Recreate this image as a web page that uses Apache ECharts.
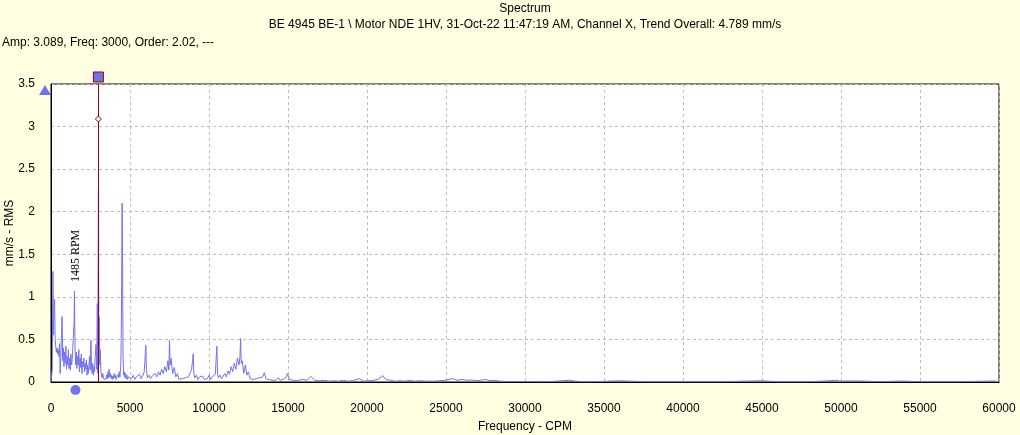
<!DOCTYPE html>
<html>
<head>
<meta charset="utf-8">
<title>Spectrum</title>
<script src="https://cdn.jsdelivr.net/npm/echarts@6/dist/echarts.min.js"></script>
<style>
    html, body { margin: 0; padding: 0; background: #FFFFE1; }
    #chart { width: 1020px; height: 435px; }
</style>
</head>
<body>
<div id="chart"></div>
<script>
// spectrum lines [CPM, mm/s RMS]
const spectrumLow = [
    [0, 0.00], [40, 0.02], [80, 0.15], [120, 1.30], [150, 0.55], [190, 0.90], [230, 0.97], [260, 0.50],
    [300, 0.42], [340, 0.35], [380, 0.40], [420, 0.33], [460, 0.38], [500, 0.30], [540, 0.45], [580, 0.10],
    [620, 0.30], [660, 0.55], [700, 0.77], [740, 0.25], [780, 0.40], [820, 0.18], [860, 0.35], [900, 0.22],
    [940, 0.42], [980, 0.15], [1020, 0.30], [1060, 0.20], [1100, 0.38], [1140, 0.16], [1180, 0.28], [1220, 0.14],
    [1260, 0.33], [1300, 0.20], [1340, 0.26], [1380, 0.40], [1420, 0.55], [1460, 0.70], [1485, 1.07], [1520, 0.40],
    [1560, 0.20], [1600, 0.35], [1640, 0.16], [1680, 0.30], [1720, 0.20], [1760, 0.38], [1800, 0.12], [1840, 0.28],
    [1880, 0.17], [1920, 0.33], [1960, 0.10], [2000, 0.24], [2040, 0.18], [2080, 0.28], [2120, 0.12], [2160, 0.22],
    [2200, 0.15], [2240, 0.26], [2280, 0.08], [2320, 0.20], [2360, 0.10], [2400, 0.18], [2440, 0.30], [2480, 0.14],
    [2530, 0.49], [2560, 0.20], [2600, 0.10], [2640, 0.22], [2680, 0.08], [2720, 0.18], [2760, 0.12], [2800, 0.30],
    [2850, 0.44], [2890, 0.15], [2930, 0.92], [2960, 0.10], [3000, 2.25], [3030, 0.40], [3060, 0.76], [3090, 0.20],
    [3120, 0.38], [3160, 0.12], [3200, 0.08], [3240, 0.05], [3280, 0.10], [3320, 0.04], [3360, 0.06], [3400, 0.03],
    [3440, 0.05], [3480, 0.03], [3520, 0.08], [3560, 0.04], [3600, 0.12], [3640, 0.05], [3680, 0.15], [3720, 0.06],
    [3760, 0.10], [3800, 0.04], [3840, 0.08], [3880, 0.03], [3920, 0.07], [3960, 0.04], [4000, 0.10], [4040, 0.05],
    [4080, 0.08], [4120, 0.03], [4160, 0.06], [4200, 0.04], [4240, 0.09], [4280, 0.05], [4320, 0.12], [4360, 0.06],
    [4420, 0.20], [4460, 0.80], [4500, 2.10], [4530, 1.45], [4560, 0.30], [4600, 0.08], [4640, 0.12], [4680, 0.05],
    [4720, 0.10], [4760, 0.04], [4800, 0.08], [4850, 0.03], [4900, 0.06], [4950, 0.04]
];

const spectrumMid = [
    [5000, 0.07], [5100, 0.04], [5200, 0.08], [5300, 0.03], [5400, 0.06], [5500, 0.05], [5600, 0.09], [5700, 0.04],
    [5800, 0.07], [5900, 0.12], [5960, 0.30], [6000, 0.43], [6040, 0.15], [6100, 0.05], [6200, 0.08], [6300, 0.04],
    [6400, 0.07], [6500, 0.05], [6600, 0.10], [6700, 0.06], [6800, 0.12], [6900, 0.08], [7000, 0.15], [7100, 0.10],
    [7200, 0.18], [7300, 0.12], [7400, 0.25], [7460, 0.14], [7500, 0.49], [7540, 0.20], [7600, 0.28], [7700, 0.10],
    [7800, 0.17], [7900, 0.06], [8000, 0.10], [8100, 0.03], [8200, 0.02], [8300, 0.04], [8400, 0.02], [8500, 0.05],
    [8600, 0.03], [8700, 0.06], [8800, 0.08], [8900, 0.15], [8960, 0.25], [9000, 0.33], [9040, 0.10], [9100, 0.05],
    [9200, 0.08], [9300, 0.03], [9400, 0.06], [9500, 0.04], [9600, 0.07], [9700, 0.03], [9800, 0.05], [9900, 0.04],
    [10000, 0.08], [10100, 0.03], [10200, 0.06], [10300, 0.05], [10400, 0.09], [10460, 0.30], [10500, 0.42], [10540, 0.10],
    [10600, 0.05], [10700, 0.08], [10800, 0.04], [10900, 0.07], [11000, 0.10], [11100, 0.06], [11200, 0.13], [11300, 0.09],
    [11400, 0.18], [11500, 0.12], [11600, 0.22], [11700, 0.15], [11800, 0.28], [11900, 0.20], [11960, 0.30], [12000, 0.51],
    [12040, 0.22], [12100, 0.25], [12200, 0.10], [12300, 0.20], [12400, 0.08], [12500, 0.12], [12600, 0.04], [12700, 0.02],
    [12800, 0.03], [12900, 0.02], [13000, 0.04], [13100, 0.02], [13200, 0.05], [13300, 0.03], [13400, 0.06], [13500, 0.11],
    [13600, 0.04], [13700, 0.06], [13800, 0.03], [13900, 0.05], [14000, 0.02], [14100, 0.04], [14200, 0.02], [14300, 0.03],
    [14400, 0.05], [14500, 0.02], [14600, 0.04], [14700, 0.03], [14800, 0.05], [14900, 0.06], [14960, 0.10], [15000, 0.08]
];

const spectrumHigh = [
    [15100, 0.03], [15300, 0.02], [15600, 0.015], [15900, 0.03], [16200, 0.02], [16450, 0.065], [16700, 0.02], [17000, 0.015],
    [17300, 0.02], [17600, 0.01], [17900, 0.015], [18200, 0.01], [18500, 0.02], [18800, 0.01], [19100, 0.015], [19500, 0.04],
    [19800, 0.01], [20100, 0.015], [20400, 0.02], [20700, 0.03], [21000, 0.075], [21200, 0.03], [21500, 0.02], [21800, 0.01],
    [22100, 0.015], [22400, 0.01], [22700, 0.02], [23000, 0.01], [23400, 0.015], [23800, 0.01], [24200, 0.01], [24600, 0.015],
    [24900, 0.02], [25200, 0.03], [25440, 0.04], [25700, 0.02], [26000, 0.03], [26300, 0.02], [26600, 0.025], [26900, 0.015],
    [27200, 0.02], [27500, 0.03], [27800, 0.015], [28100, 0.02], [28400, 0.01], [28800, 0.005], [29500, 0.005], [30500, 0.005],
    [31500, 0.004], [32780, 0.02], [33500, 0.004], [34500, 0.004], [36000, 0.015], [37500, 0.003], [40000, 0.003], [42500, 0.003],
    [44980, 0.015], [46000, 0.003], [48000, 0.003], [49300, 0.015], [49600, 0.02], [49900, 0.012], [51200, 0.012], [52500, 0.003],
    [53800, 0.012], [55000, 0.003], [57500, 0.003], [59700, 0.012], [60000, 0.003]
];

// cursor / markers
const cursorFreq = 3000;
const cursorAmp = 3.089;
const runSpeed = 1485;
const runSpeedAmp = 1.07;

const titleLines = [
    'Spectrum',
    'BE 4945 BE-1 \\ Motor NDE 1HV, 31-Oct-22 11:47:19 AM, Channel X, Trend Overall: 4.789 mm/s'
];
const readoutText = 'Amp: 3.089, Freq: 3000, Order: 2.02, ---';

const FONT = '"Liberation Sans", Arial, sans-serif';
const BLUE = '#7272EC';
const RED = '#A00000';

const chart = echarts.init(document.getElementById('chart'));

chart.setOption({
    backgroundColor: '#FFFFE1',
    animation: false,
    textStyle: { fontFamily: FONT },
    graphic: [
        { id: 'title', type: 'text', x: 525, y: 9, style: { text: titleLines[0], font: '12px ' + FONT, fill: '#000', align: 'center', verticalAlign: 'middle' } },
        { id: 'subtitle', type: 'text', x: 525, y: 25, style: { text: titleLines[1], font: '12px ' + FONT, fill: '#000', align: 'center', verticalAlign: 'middle' } },
        { id: 'readout', type: 'text', x: 2, y: 43, style: { text: readoutText, font: '12px ' + FONT, fill: '#000', align: 'left', verticalAlign: 'middle' } }
    ],
    grid: {
        left: 51,
        top: 84,
        width: 948,
        height: 298,
        outerBoundsMode: 'none',
        containLabel: false,
        show: true,
        backgroundColor: '#fff',
        borderColor: '#000',
        borderWidth: 1
    },
    xAxis: {
        type: 'value',
        min: 0,
        max: 60000,
        interval: 5000,
        name: 'Frequency - CPM',
        nameLocation: 'middle',
        nameGap: 39,
        nameTextStyle: { color: '#000', fontSize: 12 },
        axisLine: { show: true, lineStyle: { color: '#000' } },
        axisTick: { show: false },
        axisLabel: { color: '#000', fontSize: 12, margin: 21, formatter: v => String(v) },
        splitLine: { show: true, lineStyle: { color: '#BDBDBD', type: [3, 3] } }
    },
    yAxis: {
        type: 'value',
        min: 0,
        max: 3.5,
        interval: 0.5,
        name: 'mm/s - RMS',
        nameLocation: 'middle',
        nameGap: 35,
        nameMoveOverlap: false,
        nameTextStyle: { color: '#000', fontSize: 12 },
        axisLine: { show: true, lineStyle: { color: '#000' } },
        axisTick: { show: false },
        axisLabel: { color: '#000', fontSize: 12, margin: 16 },
        splitLine: { show: true, lineStyle: { color: '#BDBDBD', type: [3, 3] } }
    },
    series: [
        {
            name: 'Spectrum',
            type: 'line',
            data: spectrumLow.concat(spectrumMid, spectrumHigh),
            showSymbol: false,
            sampling: null,
            silent: true,
            lineStyle: { color: BLUE, width: 1 },
            markLine: {
                silent: true,
                symbol: ['none', 'none'],
                label: { show: false },
                lineStyle: { color: RED, width: 1, type: 'solid' },
                data: [{ xAxis: cursorFreq }]
            },
            markPoint: {
                silent: true,
                label: { show: false },
                data: [
                    // amplitude cursor on the y axis
                    { coord: [0, 3.5], symbol: 'triangle', symbolSize: [12, 10], symbolOffset: [-6, 6],
                      itemStyle: { color: BLUE } },
                    // run speed marker under the x axis
                    { coord: [runSpeed, 0], symbol: 'circle', symbolSize: 10, symbolOffset: [1, 8],
                      itemStyle: { color: BLUE } },
                    // frequency cursor handle
                    { coord: [cursorFreq, 3.5], symbol: 'rect', symbolSize: 10, symbolOffset: [0, -7],
                      itemStyle: { color: BLUE, borderColor: RED, borderWidth: 1 } },
                    // cursor amplitude
                    { coord: [cursorFreq, cursorAmp], symbol: 'diamond', symbolSize: 6,
                      itemStyle: { color: '#fff', borderColor: RED, borderWidth: 1 } }
                ]
            }
        }
    ]
});

// run speed label, placed above the 1x peak
const rpmPos = chart.convertToPixel({ gridIndex: 0 }, [runSpeed, runSpeedAmp]);
chart.setOption({
    graphic: [
        {
            id: 'rpm',
            type: 'text',
            x: rpmPos[0] + 1,
            y: rpmPos[1] - 35,
            rotation: Math.PI / 2,
            style: {
                text: runSpeed + ' RPM',
                font: '12px "Liberation Serif", "Times New Roman", serif',
                fill: '#000',
                align: 'center',
                verticalAlign: 'middle'
            }
        }
    ]
});
</script>
</body>
</html>
